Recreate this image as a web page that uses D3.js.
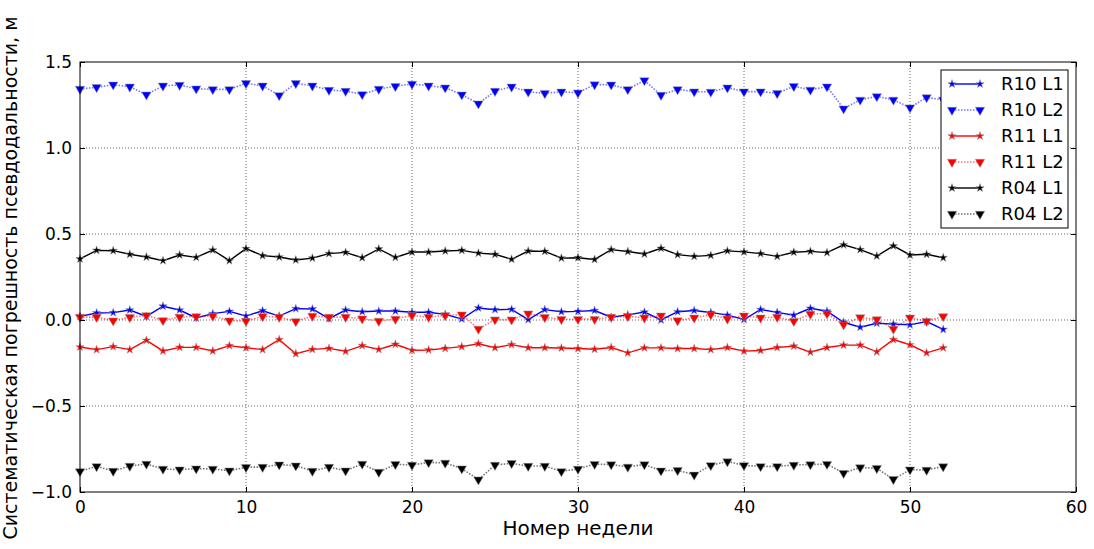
<!DOCTYPE html>
<html>
<head>
<meta charset="utf-8">
<script src="https://cdn.jsdelivr.net/npm/d3@7"></script>
<style>
  body { margin: 0; background: #fff; }
  svg text { font-family: "DejaVu Sans", sans-serif; }
</style>
</head>
<body>
<div id="chart"></div>
<script>

// week numbers 0..52
var weeks = d3.range(0, 53);

var r10_l1 = [0.021,0.041,0.043,0.058,0.021,0.080,0.058,0.012,0.037,0.050,
              0.023,0.054,0.023,0.066,0.064,0.008,0.058,0.048,0.052,0.052,
              0.045,0.045,0.033,0.006,0.070,0.060,0.062,0.002,0.060,0.048,
              0.050,0.055,0.016,0.030,0.046,0.000,0.048,0.055,0.044,0.028,
              0.003,0.061,0.044,0.028,0.068,0.051,-0.013,-0.042,-0.019,-0.024,
              -0.028,-0.009,-0.055];
var r10_l2 = [1.343,1.353,1.368,1.356,1.310,1.362,1.366,1.345,1.341,1.341,
              1.376,1.362,1.306,1.376,1.362,1.337,1.331,1.312,1.343,1.359,
              1.372,1.362,1.351,1.310,1.258,1.331,1.356,1.327,1.318,1.327,
              1.321,1.369,1.368,1.341,1.393,1.308,1.341,1.328,1.326,1.351,
              1.328,1.328,1.318,1.359,1.338,1.357,1.229,1.280,1.300,1.280,
              1.235,1.294,1.280];
var r11_l1 = [-0.157,-0.172,-0.155,-0.172,-0.118,-0.180,-0.159,-0.159,-0.180,-0.149,
              -0.161,-0.172,-0.114,-0.196,-0.171,-0.165,-0.182,-0.149,-0.171,-0.141,
              -0.176,-0.174,-0.165,-0.155,-0.138,-0.161,-0.143,-0.161,-0.161,-0.163,
              -0.166,-0.170,-0.160,-0.191,-0.162,-0.162,-0.166,-0.166,-0.172,-0.160,
              -0.181,-0.177,-0.160,-0.152,-0.187,-0.160,-0.146,-0.146,-0.185,-0.114,
              -0.144,-0.191,-0.162];
var r11_l2 = [0.017,0.017,-0.004,0.016,0.027,-0.002,0.017,0.021,0.023,-0.004,
              -0.006,0.021,0.017,-0.008,0.023,0.017,0.017,0.008,-0.006,0.006,
              0.027,0.017,0.027,0.031,-0.052,0.002,0.002,0.037,0.016,0.004,
              0.005,0.005,0.017,0.021,0.013,0.025,-0.003,0.013,0.031,0.007,
              0.025,0.013,0.017,-0.007,0.035,0.037,-0.027,0.015,0.003,-0.052,
              0.013,-0.007,0.021];
var r04_l1 = [0.355,0.405,0.403,0.382,0.366,0.345,0.378,0.364,0.407,0.345,
              0.415,0.374,0.366,0.349,0.360,0.386,0.393,0.362,0.413,0.364,
              0.395,0.395,0.401,0.405,0.389,0.382,0.353,0.401,0.399,0.360,
              0.362,0.352,0.409,0.398,0.384,0.417,0.380,0.370,0.376,0.402,
              0.396,0.386,0.370,0.394,0.399,0.392,0.437,0.409,0.372,0.431,
              0.378,0.382,0.362];
var r04_l2 = [-0.880,-0.851,-0.878,-0.849,-0.837,-0.866,-0.870,-0.864,-0.866,-0.876,
              -0.856,-0.855,-0.841,-0.847,-0.878,-0.855,-0.876,-0.837,-0.884,-0.839,
              -0.843,-0.828,-0.831,-0.864,-0.928,-0.843,-0.833,-0.849,-0.849,-0.880,
              -0.866,-0.838,-0.840,-0.854,-0.840,-0.876,-0.874,-0.900,-0.845,-0.823,
              -0.845,-0.851,-0.851,-0.843,-0.840,-0.838,-0.890,-0.858,-0.862,-0.926,
              -0.870,-0.872,-0.852];

var seriesNames = ["R10 L1", "R10 L2", "R11 L1", "R11 L2", "R04 L1", "R04 L2"];
var seriesValues = [r10_l1, r10_l2, r11_l1, r11_l2, r04_l1, r04_l2];
var seriesColours = ["#0000ff", "#0000ff", "#ff0000", "#ff0000", "#000000", "#000000"];

var xTicks = [0, 10, 20, 30, 40, 50, 60];
var yTicks = [-1.0, -0.5, 0.0, 0.5, 1.0, 1.5];

// set the dimensions and margins of the graph
var svgWidth = 1094, svgHeight = 549;
var margin = { top: 62, right: 18, bottom: 57, left: 80 },
    width = svgWidth - margin.left - margin.right,
    height = svgHeight - margin.top - margin.bottom;

var x = d3.scaleLinear().domain([0, 60]).range([0, width]);
var y = d3.scaleLinear().domain([-1.0, 1.5]).range([height, 0]);

var svg = d3.select("#chart").append("svg")
    .attr("width", svgWidth)
    .attr("height", svgHeight)
    .append("g")
    .attr("transform", "translate(" + margin.left + "," + margin.top + ")");

// grid
svg.append("g").selectAll("line.gx")
    .data(xTicks.slice(1, -1))
    .enter().append("line")
    .attr("x1", function(d) { return x(d); }).attr("x2", function(d) { return x(d); })
    .attr("y1", 0).attr("y2", height)
    .attr("stroke", "#000").attr("stroke-width", 0.6).attr("stroke-dasharray", "1,2");
svg.append("g").selectAll("line.gy")
    .data(yTicks.slice(1, -1))
    .enter().append("line")
    .attr("x1", 0).attr("x2", width)
    .attr("y1", function(d) { return y(d); }).attr("y2", function(d) { return y(d); })
    .attr("stroke", "#000").attr("stroke-width", 0.6).attr("stroke-dasharray", "1,2");

// series
var starSym = d3.symbol().type(d3.symbolStar).size(22);
var triSym = d3.symbol().type(d3.symbolTriangle).size(38);

seriesValues.forEach(function(vals, k) {
    var isL2 = k % 2 === 1;
    var pts = weeks.map(function(w, i) { return [w, vals[i]]; });
    var line = d3.line()
        .x(function(d) { return x(d[0]); })
        .y(function(d) { return y(d[1]); });
    svg.append("path")
        .datum(pts)
        .attr("fill", "none")
        .attr("stroke", seriesColours[k])
        .attr("stroke-opacity", isL2 ? 0.55 : 1)
        .attr("stroke-width", isL2 ? 1.6 : 1.4)
        .attr("stroke-dasharray", isL2 ? "1.5,1.5" : null)
        .attr("d", line);
    svg.append("g").selectAll("path")
        .data(pts)
        .enter().append("path")
        .attr("d", isL2 ? triSym : starSym)
        .attr("transform", function(d) {
            return "translate(" + x(d[0]) + "," + y(d[1]) + ")" + (isL2 ? " rotate(180)" : "");
        })
        .attr("fill", seriesColours[k])
        .attr("stroke", "#999")
        .attr("stroke-width", 0.5);
});

// frame
svg.append("rect")
    .attr("x", 0).attr("y", 0).attr("width", width).attr("height", height)
    .attr("fill", "none").attr("stroke", "#000").attr("stroke-width", 1);

// axes (ticks inward)
var axisX = svg.append("g")
    .attr("transform", "translate(0," + height + ")")
    .call(d3.axisBottom(x).tickValues(xTicks).tickSize(-5).tickPadding(9).tickFormat(d3.format("d")));
axisX.select(".domain").remove();
axisX.selectAll("text").attr("font-size", 17).attr("fill", "#000").attr("font-family", "DejaVu Sans");

var axisXTop = svg.append("g")
    .call(d3.axisTop(x).tickValues(xTicks).tickSize(-5).tickFormat(""));
axisXTop.select(".domain").remove();

var axisY = svg.append("g")
    .call(d3.axisLeft(y).tickValues(yTicks).tickSize(-5).tickPadding(8).tickFormat(d3.format(".1f")));
axisY.select(".domain").remove();
axisY.selectAll("text").attr("font-size", 17).attr("fill", "#000").attr("font-family", "DejaVu Sans");

var axisYRight = svg.append("g")
    .attr("transform", "translate(" + width + ",0)")
    .call(d3.axisRight(y).tickValues(yTicks).tickSize(-5).tickFormat(""));
axisYRight.select(".domain").remove();

// axis labels
svg.append("text")
    .attr("x", width / 2).attr("y", height + 43)
    .attr("text-anchor", "middle").attr("font-size", 20)
    .text("Номер недели");
svg.append("text")
    .attr("transform", "translate(" + (-63) + "," + (height / 2 + 1) + ") rotate(-90)")
    .attr("text-anchor", "middle").attr("font-size", 19)
    .text("Систематическая погрешность псевдодальности, м");

// legend
var lg = svg.append("g").attr("transform", "translate(" + (width - 135) + ",8)");
lg.append("rect")
    .attr("x", 0).attr("y", 0).attr("width", 127).attr("height", 158)
    .attr("fill", "#fff").attr("stroke", "#000").attr("stroke-width", 1);
seriesNames.forEach(function(name, k) {
    var isL2 = k % 2 === 1;
    var yy = 14 + k * 26;
    lg.append("line")
        .attr("x1", 11).attr("x2", 39).attr("y1", yy).attr("y2", yy)
        .attr("stroke", seriesColours[k])
        .attr("stroke-opacity", isL2 ? 0.55 : 1)
        .attr("stroke-width", isL2 ? 1.6 : 1.4)
        .attr("stroke-dasharray", isL2 ? "1.5,1.5" : null);
    [11, 39].forEach(function(px) {
        lg.append("path")
            .attr("d", isL2 ? triSym : starSym)
            .attr("transform", "translate(" + px + "," + yy + ")" + (isL2 ? " rotate(180)" : ""))
            .attr("fill", seriesColours[k]).attr("stroke", "#999").attr("stroke-width", 0.5);
    });
    lg.append("text")
        .attr("x", 60).attr("y", yy).attr("dy", "0.35em")
        .attr("font-size", 18)
        .text(name);
});

</script>
</body>
</html>
